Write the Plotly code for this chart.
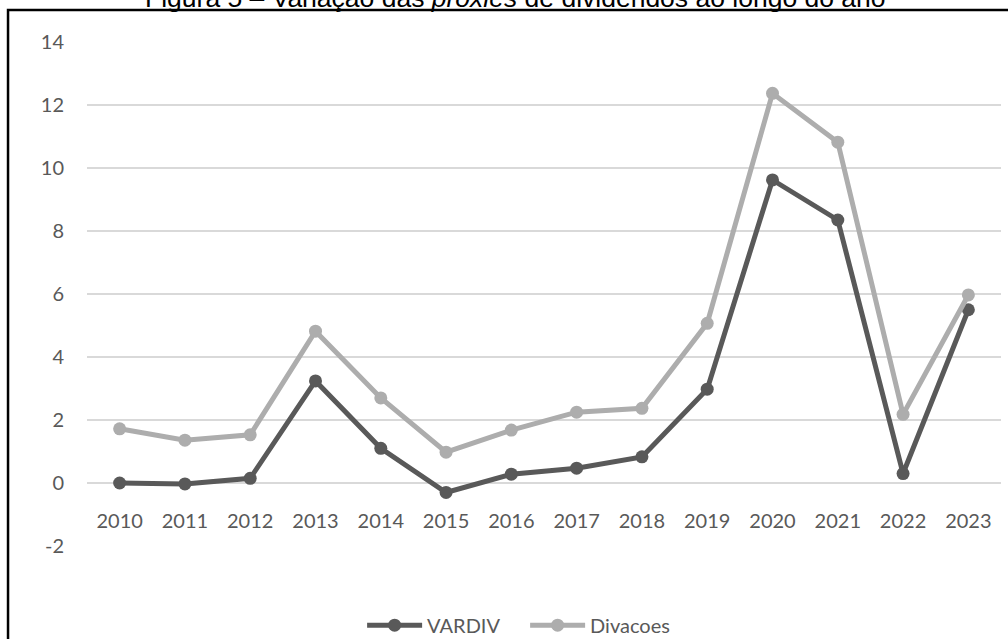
import plotly.graph_objects as go

years = ["2010", "2011", "2012", "2013", "2014", "2015", "2016", "2017",
         "2018", "2019", "2020", "2021", "2022", "2023"]
vardiv = [0.0, -0.03, 0.15, 3.24, 1.1, -0.3, 0.28, 0.47, 0.83, 2.98, 9.62, 8.35, 0.3, 5.5]
divacoes = [1.72, 1.36, 1.53, 4.82, 2.7, 0.98, 1.68, 2.25, 2.37, 5.07, 12.37, 10.82, 2.18, 5.97]
y_ticks = [-2, 0, 2, 4, 6, 8, 10, 12, 14]
y_tick_labels = ["-2", "0", "2", "4", "6", "8", "10", "12", "14"]
title_text = "Figura 5 – Variação das <i>proxies</i> de dividendos ao longo do ano"

fig = go.Figure()
fig.add_trace(go.Scatter(
    x=years, y=vardiv, name="VARDIV", mode="lines+markers",
    line=dict(color="#595959", width=5),
    marker=dict(color="#595959", size=13),
))
fig.add_trace(go.Scatter(
    x=years, y=divacoes, name="Divacoes", mode="lines+markers",
    line=dict(color="#ADADAD", width=5),
    marker=dict(color="#ADADAD", size=13),
))

fig.update_layout(
    width=1008, height=639,
    margin=dict(l=87, r=7, t=42, b=93, autoexpand=False),
    paper_bgcolor="white", plot_bgcolor="white",
    font=dict(family="Lato", size=20, color="#595959"),
    showlegend=True,
    legend=dict(orientation="h", x=0.301, xanchor="left", y=-0.157, yanchor="middle",
                font=dict(size=20, color="#595959"), itemwidth=55,
                entrywidth=93, entrywidthmode="pixels", tracegroupgap=0),
    xaxis=dict(type="category", range=[-0.5, 13.5], showgrid=False, zeroline=False,
               showline=False, ticks="", anchor="free", position=0.125,
               ticklabelstandoff=24, tickfont=dict(size=20, color="#595959")),
    yaxis=dict(range=[-2, 14], tickvals=y_ticks, ticktext=y_tick_labels,
               showgrid=True, gridcolor="#D9D9D9",
               gridwidth=1.5, zeroline=False, showline=False, ticks="",
               ticklabelstandoff=22, tickfont=dict(size=20, color="#595959")),
    annotations=[dict(text=title_text, xref="paper", yref="paper", x=0.469, y=1.088,
                      xanchor="center", yanchor="middle", showarrow=False,
                      font=dict(family="Liberation Sans", size=26.5, color="black"))],
    shapes=[dict(type="rect", xref="paper", yref="paper", x0=-0.0864, x1=1.03,
                 y0=-0.25, y1=1.0635, line=dict(color="black", width=2.5),
                 fillcolor="rgba(0,0,0,0)", layer="above")],
)

fig.write_html("out.html")
